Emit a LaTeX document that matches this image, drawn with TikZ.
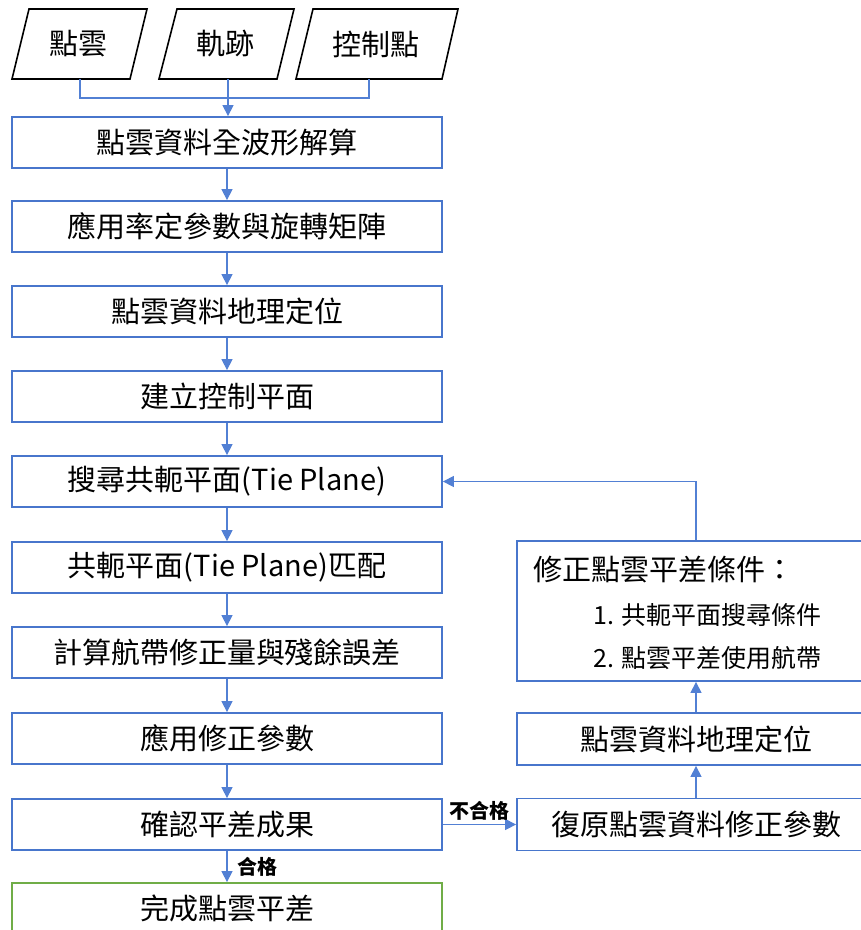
\documentclass[tikz,border=0pt]{standalone}
\usepackage{fontspec}
\setmainfont{Noto Sans CJK TC}
\usetikzlibrary{arrows.meta}
\definecolor{bluebox}{RGB}{72,118,204}
\definecolor{blueline}{RGB}{82,128,212}
\definecolor{greenbox}{RGB}{112,173,71}
\tikzset{
  box/.style={draw=bluebox, line width=1.8pt, minimum width=430pt, minimum height=51pt, inner sep=0pt, font=\fontsize{29}{34}\selectfont},
  rbox/.style={draw=bluebox, line width=1.8pt, minimum width=358pt, inner sep=0pt, font=\fontsize{29}{34}\selectfont},
  gbox/.style={box, draw=greenbox},
  para/.style={draw=black, line width=1.6pt, line join=miter},
  ptext/.style={inner sep=0pt, font=\fontsize{29}{34}\selectfont},
  flow/.style={draw=blueline, line width=1.3pt, -{Triangle[length=11pt,width=11pt]}},
  plain/.style={draw=blueline, line width=1.1pt},
  lbl/.style={inner sep=0pt, font=\fontsize{20}{24}\selectfont\bfseries},
  rtext/.style={inner sep=0pt, anchor=west},
}
\begin{document}
\begin{tikzpicture}[x=1pt,y=-1pt]
\useasboundingbox (0,0) rectangle (861,930);
% input parallelograms
\draw[para] (12,79) -- (130,79) -- (147,9) -- (29,9) -- cycle;
\draw[para] (159,79) -- (277,79) -- (294,9) -- (177,9) -- cycle;
\draw[para] (296,79) -- (442,79) -- (458,9) -- (313,9) -- cycle;
\node[ptext] (p1) at (78,44) {點雲};
\node[ptext] (p2) at (225,44) {軌跡};
\node[ptext] (p3) at (376,44) {控制點};
\coordinate (p1b) at (80,79);
\coordinate (p2b) at (228,79);
\coordinate (p3b) at (369,79);
\coordinate (join) at (228,98);
% main boxes
\node[box] (b1) at (227,142.5) {點雲資料全波形解算};
\node[box] (b2) at (227,226.5) {應用率定參數與旋轉矩陣};
\node[box] (b3) at (227,311.5) {點雲資料地理定位};
\node[box] (b4) at (227,396.5) {建立控制平面};
\node[box] (b5) at (227,481.5) {搜尋共軛平面(Tie Plane)};
\node[box] (b6) at (227,567.5) {共軛平面(Tie Plane)匹配};
\node[box] (b7) at (227,652.5) {計算航帶修正量與殘餘誤差};
\node[box] (b8) at (227,738.5) {應用修正參數};
\node[box] (b9) at (227,824.5) {確認平差成果};
\node[gbox] (b10) at (227,908.5) {完成點雲平差};
% right boxes
\node[rbox, minimum height=140pt] (r1) at (696,611) {};
\node[rtext, font=\fontsize{29}{34}\selectfont] (r1t) at (533,570) {修正點雲平差條件：};
\node[rtext, font=\fontsize{25}{30}\selectfont] (r1a) at (593,615) {1. 共軛平面搜尋條件};
\node[rtext, font=\fontsize{25}{30}\selectfont] (r1b) at (593,658) {2. 點雲平差使用航帶};
\node[rbox, minimum height=52pt] (r2) at (696,739) {點雲資料地理定位};
\node[rbox, minimum height=52pt] (r3) at (696,824.5) {復原點雲資料修正參數};
% input connectors
\draw[plain] (p1b) |- (join);
\draw[plain] (p3b) |- (join);
\draw[flow] (p2b) -- (b1.north -| p2b);
% main flow
\draw[flow] (b1) -- (b2);
\draw[flow] (b2) -- (b3);
\draw[flow] (b3) -- (b4);
\draw[flow] (b4) -- (b5);
\draw[flow] (b5) -- (b6);
\draw[flow] (b6) -- (b7);
\draw[flow] (b7) -- (b8);
\draw[flow] (b8) -- (b9);
\draw[flow] (b9) -- node[lbl, anchor=west, xshift=10pt] (ok) {合格} (b10);
\draw[flow] (b9) -- node[lbl, anchor=south, yshift=3pt] (nok) {不合格} (r3);
% feedback loop
\draw[flow] (r3) -- (r2);
\draw[flow] (r2) -- (r1);
\draw[flow] (r1.north) |- (b5.east);
\end{tikzpicture}
\end{document}
